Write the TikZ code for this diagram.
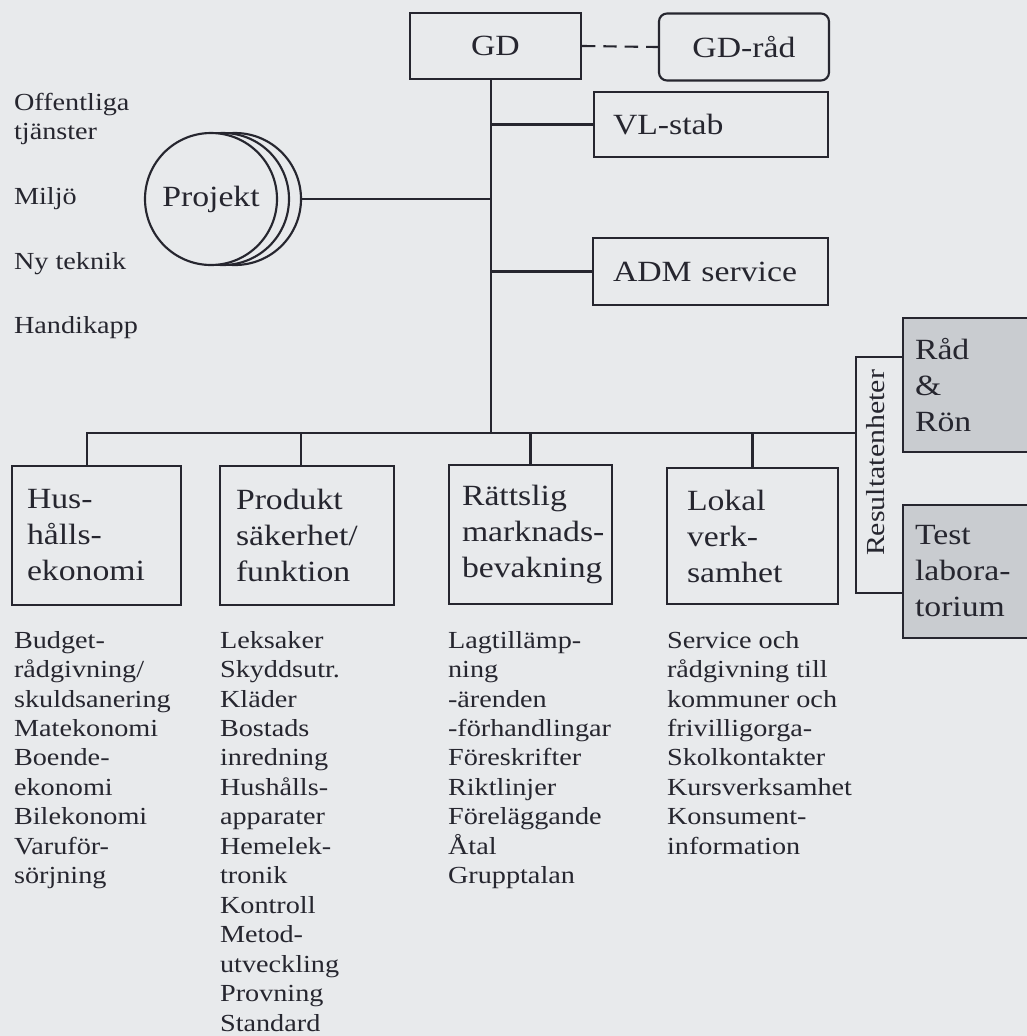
\documentclass[tikz,border=0pt]{standalone}
\usepackage{fontspec}
\setmainfont[FakeStretch=1.15]{Liberation Serif}
\definecolor{bg}{HTML}{E8EAEC}
\definecolor{ink}{HTML}{26262F}
\definecolor{shade}{HTML}{C9CCD0}
\newcommand\listfont{\fontsize{18.4pt}{22.1pt}\selectfont}
\newcommand\boxfont{\fontsize{22pt}{27pt}\selectfont}
\tikzset{
  box/.style={draw, rectangle, inner ysep=0pt, font=\boxfont, align=left},
  frame/.style={draw, rectangle, inner sep=0pt},
  boxtext/.style={anchor=west, inner sep=0pt, font=\boxfont, align=left},
  ring/.style={draw, circle, minimum size=99pt, inner sep=0pt, fill=bg},
  lst/.style={anchor=north west, inner sep=0pt, font=\listfont, align=left},
  lbl/.style={anchor=base west, inner sep=0pt, font=\listfont},
}
\begin{document}
\begin{tikzpicture}[x=0.75pt,y=-0.75pt,line width=1.6pt,color=ink]
\fill[bg] (0,0) rectangle (1027,1036);
\useasboundingbox (0,0) rectangle (1027,1036);
\clip (0,0) rectangle (1027,1036);

% top boxes
\node[box, minimum width=128.25pt, minimum height=49.5pt] (gd) at (495.5,46) {GD};
\node[box, rounded corners=6pt, minimum width=127.5pt, minimum height=50.25pt] (gdrad) at (744,47) {GD-råd};
\node[box, text width=147pt, inner xsep=14.25pt, minimum height=48.75pt] (vl) at (711,124.5) {VL-stab};
\node[box, text width=146.25pt, inner xsep=15pt, minimum height=50.25pt] (adm) at (710.5,271.5) {ADM service};

% Projekt circles
\node[ring] (proj3) at (235,199) {};
\node[ring] (proj2) at (223,199) {};
\node[ring, font=\boxfont] (proj) at (211,199) {Projekt};

% left labels
\node[lbl] (l1) at (13,110) {Offentliga};
\node[lbl] (l2) at (13,139) {tjänster};
\node[lbl] (l3) at (13,204) {Miljö};
\node[lbl] (l4) at (13,269) {Ny teknik};
\node[lbl] (l5) at (13,333) {Handikapp};

% bottom boxes
\node[frame, minimum width=126.75pt, minimum height=104.25pt] (hus) at (96.5,535.5) {};
\node[boxtext] (hust) at ([xshift=11.25pt]hus.west) {Hus-\\hålls-\\ekonomi};
\node[frame, minimum width=130.5pt, minimum height=104.25pt] (prod) at (307,535.5) {};
\node[boxtext] (prodt) at ([xshift=12pt]prod.west) {Produkt\\säkerhet/\\funktion};
\node[frame, minimum width=122.25pt, minimum height=104.25pt] (ratt) at (530.5,534.5) {};
\node[boxtext] (rattt) at ([xshift=9.75pt]ratt.west) {Rättslig\\marknads-\\bevakning};
\node[frame, minimum width=128.25pt, minimum height=102pt] (lokal) at (752.5,536) {};
\node[boxtext] (lokalt) at ([xshift=15pt]lokal.west) {Lokal\\verk-\\samhet};

% shaded boxes
\node[frame, fill=shade, minimum width=102.75pt, minimum height=100.5pt] (rad) at (971.5,385) {};
\node[boxtext] (radt) at ([xshift=9pt]rad.west) {Råd\\\&\\Rön};
\node[frame, fill=shade, minimum width=102.75pt, minimum height=99.75pt] (test) at (971.5,571.5) {};
\node[boxtext] (testt) at ([xshift=9pt]test.west) {Test\\labora-\\torium};

% Resultatenheter bracket
\node[rotate=90, inner sep=0pt, font=\fontsize{19.5pt}{22pt}\selectfont] (res) at (876,463) {Resultatenheter};
\coordinate (rtop) at (856,357);
\coordinate (rbot) at (856,593);
\coordinate (rmid) at (856,433);
\coordinate (tb) at (491,433);
\draw (rad.west |- rtop) -- (rtop) -- (rbot) -- (test.west |- rbot);

% connectors
\draw[dash pattern=on 10pt off 6pt] (gd.east) -- (gdrad.west);
\draw (gd.south -| tb) -- (tb);
\draw (vl.west) -- (vl.west -| tb);
\draw (adm.west) -- (adm.west -| tb);
\draw (proj3.east) -- (proj3.east -| tb);
\draw ([xshift=-7pt]hus.north) |- (rmid);
\draw ([xshift=-4.5pt]prod.north) -- ([xshift=-4.5pt]prod.north |- rmid);
\draw (ratt.north) -- (ratt.north |- rmid);
\draw (lokal.north) -- (lokal.north |- rmid);

% lists
\node[lst] (c1) at (13,630) {Budget-\\rådgivning/\\skuldsanering\\Matekonomi\\Boende-\\ekonomi\\Bilekonomi\\Varuför-\\sörjning};
\node[lst] (c2) at (219,630) {Leksaker\\Skyddsutr.\\Kläder\\Bostads\\inredning\\Hushålls-\\apparater\\Hemelek-\\tronik\\Kontroll\\Metod-\\utveckling\\Provning\\Standard};
\node[lst] (c3) at (447,630) {Lagtillämp-\\ning\\-ärenden\\-förhandlingar\\Föreskrifter\\Riktlinjer\\Föreläggande\\Åtal\\Grupptalan};
\node[lst] (c4) at (666,630) {Service och\\rådgivning till\\kommuner och\\frivilligorga-\\Skolkontakter\\Kursverksamhet\\Konsument-\\information};
\end{tikzpicture}
\end{document}
